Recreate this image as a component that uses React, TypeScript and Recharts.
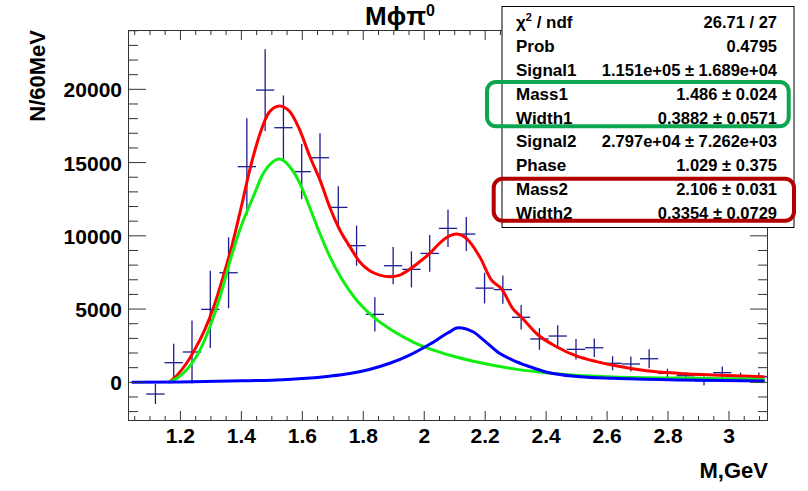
import React from "react";
import { ComposedChart, Line, Scatter, ErrorBar, XAxis, YAxis } from "recharts";

// M(phi pi0) spectrum, 60 MeV bins
const binCenters = [
  1.118, 1.178, 1.238, 1.298, 1.358, 1.418, 1.478, 1.538, 1.598, 1.658, 1.718, 1.778,
  1.838, 1.898, 1.958, 2.018, 2.078, 2.138, 2.198, 2.258, 2.318, 2.378, 2.438, 2.498,
  2.558, 2.618, 2.678, 2.738, 2.798, 2.858, 2.918, 2.978, 3.038, 3.098,
];
const counts = [
  -800, 1340, 2070, 4980, 7480, 14720, 19950, 17380, 14380, 15330, 11940, 9330,
  4640, 7960, 7710, 8800, 10510, 10120, 6430, 6330, 4440, 2960, 3160, 2250,
  2360, 1300, 1250, 1610, 610, 450, 100, 660, 380, 380,
];
const countErrors = [
  680, 1290, 2150, 2640, 2420, 3300, 2790, 2200, 1880, 1670, 1440, 1370,
  1170, 1270, 1230, 1250, 1270, 1160, 1050, 960, 830, 740, 740, 700,
  630, 480, 510, 650, 320, 230, 300, 420, 290, 290,
];
const halfBin = 0.03;

// total fit (red)
const totalX = [
  1.163, 1.19, 1.22, 1.25, 1.28, 1.31, 1.34, 1.37, 1.4, 1.43, 1.46, 1.49, 1.525, 1.56,
  1.59, 1.625, 1.66, 1.69, 1.723, 1.756, 1.788, 1.821, 1.854, 1.887, 1.92, 1.952, 1.985,
  2.018, 2.05, 2.083, 2.105, 2.138, 2.182, 2.22, 2.255, 2.29, 2.319, 2.374, 2.434, 2.499,
  2.565, 2.62, 2.729, 2.838, 2.947, 3.117,
];
const totalY = [
  0, 500, 1300, 2350, 3600, 5200, 7200, 9400, 12000, 14700, 16900, 18400, 18860, 18450,
  17300, 15400, 13700, 11950, 10400, 9260, 8230, 7620, 7320, 7210, 7320, 7710, 8230,
  8800, 9490, 9990, 10120, 9830, 8570, 7000, 6350, 5050, 4440, 3230, 2430, 1800,
  1410, 1160, 790, 610, 500, 380,
];

// first resonance (green)
const bw1X = [
  1.16, 1.19, 1.22, 1.264, 1.297, 1.33, 1.362, 1.4, 1.439, 1.472, 1.5, 1.524, 1.559,
  1.592, 1.625, 1.653, 1.69, 1.767, 1.832, 1.898, 1.964, 2.03, 2.084, 2.181, 2.3, 2.4,
  2.62, 2.95, 3.117,
];
const bw1Y = [
  0, 300, 840, 2200, 3800, 5840, 8230, 10700, 12670, 14270, 15000, 15240, 14720,
  13580, 11900, 10400, 8600, 5900, 4480, 3500, 2750, 2200, 1850, 1350, 900, 650,
  360, 260, 200,
];

// second resonance (blue)
const bw2X = [
  1.04, 1.2, 1.4, 1.5, 1.6, 1.69, 1.756, 1.82, 1.887, 1.952, 2.018, 2.08, 2.111, 2.16,
  2.2, 2.247, 2.29, 2.346, 2.4, 2.51, 2.62, 2.84, 3.117,
];
const bw2Y = [
  0, 30, 100, 150, 260, 420, 600, 880, 1300, 1860, 2600, 3400, 3730, 3450,
  2800, 1980, 1520, 1070, 700, 380, 270, 160, 90,
];

const xMajorTicks = [1.2, 1.4, 1.6, 1.8, 2, 2.2, 2.4, 2.6, 2.8, 3];
const yMajorTicks = [0, 5000, 10000, 15000, 20000];

const statLabels = ["χ2 / ndf", "Prob", "Signal1", "Mass1", "Width1", "Signal2", "Phase", "Mass2", "Width2"];
const statValues = [
  "26.71 / 27",
  "0.4795",
  "1.151e+05 ± 1.689e+04",
  "1.486 ± 0.024",
  "0.3882 ± 0.0571",
  "2.797e+04 ± 7.262e+03",
  "1.029 ± 0.375",
  "2.106 ± 0.031",
  "0.3354 ± 0.0729",
];

const points = binCenters.map((x, i) => ({ x, y: counts[i], ex: halfBin, ey: countErrors[i] }));
const total = totalX.map((x, i) => ({ x, y: totalY[i] }));
const bw1 = bw1X.map((x, i) => ({ x, y: bw1Y[i] }));
const bw2 = bw2X.map((x, i) => ({ x, y: bw2Y[i] }));

const xTicks: number[] = [];
for (let k = 21; k <= 62; k++) xTicks.push(Math.round(k * 5) / 100);
const yTicks: number[] = [];
for (let k = -2; k <= 24; k++) yTicks.push(k * 1000);

const FONT = "'Liberation Sans', Arial, Helvetica, sans-serif";
const TOP = 30;
const BOTTOM = 421;
const LEFT = 128;
const RIGHT = 768;
const AXIS = "#333";

const isMajorX = (v: number) => xMajorTicks.some((t) => Math.abs(t - v) < 1e-6);

function renderXTick(props: any) {
  const { x, payload } = props;
  const major = isMajorX(payload.value);
  const len = major ? 10 : 5;
  return (
    <g>
      <line x1={x} x2={x} y1={BOTTOM} y2={BOTTOM - len} stroke={AXIS} strokeWidth={1} />
      <line x1={x} x2={x} y1={TOP} y2={TOP + len} stroke={AXIS} strokeWidth={1} />
      {major && (
        <text x={x} y={443} textAnchor="middle" fontFamily={FONT} fontWeight="bold" fontSize={21} fill="#000">
          {String(payload.value)}
        </text>
      )}
    </g>
  );
}

function renderYTick(props: any) {
  const { y, payload } = props;
  const major = yMajorTicks.includes(payload.value);
  const len = major ? 18 : 10;
  return (
    <g>
      <line x1={LEFT} x2={LEFT + len} y1={y} y2={y} stroke={AXIS} strokeWidth={1} />
      <line x1={RIGHT - len} x2={RIGHT} y1={y} y2={y} stroke={AXIS} strokeWidth={1} />
      {major && (
        <text x={122} y={y + 8} textAnchor="end" fontFamily={FONT} fontWeight="bold" fontSize={21} fill="#000">
          {String(payload.value)}
        </text>
      )}
    </g>
  );
}

export default function App() {
  return (
    <div style={{ position: "absolute", left: 0, top: 0, width: 808, height: 491, background: "#fff" }}>
      <ComposedChart width={808} height={491} margin={{ top: 30, right: 40, bottom: 40, left: 0 }}>
        <XAxis
          type="number"
          dataKey="x"
          domain={[1.028, 3.128]}
          allowDataOverflow
          ticks={xTicks}
          interval={0}
          height={30}
          tick={renderXTick}
          tickLine={false}
          axisLine={false}
        />
        <YAxis
          type="number"
          dataKey="y"
          domain={[-2640, 24050]}
          allowDataOverflow
          ticks={yTicks}
          interval={0}
          width={128}
          tick={renderYTick}
          tickLine={false}
          axisLine={false}
        />
        <Scatter data={points} shape={() => <g />} isAnimationActive={false}>
          <ErrorBar dataKey="ey" direction="y" width={0} stroke="#1c1c8e" strokeWidth={1.3} isAnimationActive={false} />
          <ErrorBar dataKey="ex" direction="x" width={0} stroke="#1c1c8e" strokeWidth={1.3} isAnimationActive={false} />
        </Scatter>
        <Line data={total} dataKey="y" type="monotone" stroke="#ff0000" strokeWidth={3} dot={false} isAnimationActive={false} />
        <Line data={bw1} dataKey="y" type="monotone" stroke="#11ee11" strokeWidth={3} dot={false} isAnimationActive={false} />
        <Line data={bw2} dataKey="y" type="monotone" stroke="#0000ff" strokeWidth={3} dot={false} isAnimationActive={false} />
      </ComposedChart>

      <svg width={808} height={491} style={{ position: "absolute", left: 0, top: 0, pointerEvents: "none" }}>
        <rect x={LEFT + 0.5} y={TOP + 0.5} width={RIGHT - LEFT - 1} height={BOTTOM - TOP - 1} fill="none" stroke={AXIS} strokeWidth={1} />

        <text x={400} y={25} textAnchor="middle" fontFamily={FONT} fontWeight="bold" fontSize={26} fill="#000">
          Mϕπ<tspan dy={-9} fontSize={16}>0</tspan>
        </text>

        <text
          x={45}
          y={TOP}
          transform={`rotate(-90 45 ${TOP})`}
          textAnchor="end"
          fontFamily={FONT}
          fontWeight="bold"
          fontSize={22}
          fill="#000"
        >
          N/60MeV
        </text>
        <text x={RIGHT} y={478} textAnchor="end" fontFamily={FONT} fontWeight="bold" fontSize={22} fill="#000">
          M,GeV
        </text>

        <rect x={502} y={6.5} width={292} height={221} fill="#fff" stroke="#000" strokeWidth={1} />
        {statLabels.map((label, i) => {
          const yb = 21.7 + 23.95 * i + 6;
          return (
            <g key={label}>
              <text x={516} y={yb} fontFamily={FONT} fontWeight="bold" fontSize={17} fill="#000">
                {i === 0 ? (
                  <>
                    χ<tspan dy={-7} fontSize={11}>2</tspan>
                    <tspan dy={7}> / ndf</tspan>
                  </>
                ) : (
                  label
                )}
              </text>
              <text x={777} y={yb} textAnchor="end" fontFamily={FONT} fontWeight="bold" fontSize={16.5} fill="#000">
                {statValues[i]}
              </text>
            </g>
          );
        })}

        <rect x={487} y={82} width={301.7} height={44.3} rx={9} fill="none" stroke="#0ca651" strokeWidth={4} />
        <rect x={493.7} y={178.7} width={300.3} height={42} rx={9} fill="none" stroke="#b30000" strokeWidth={4} />
      </svg>
    </div>
  );
}
